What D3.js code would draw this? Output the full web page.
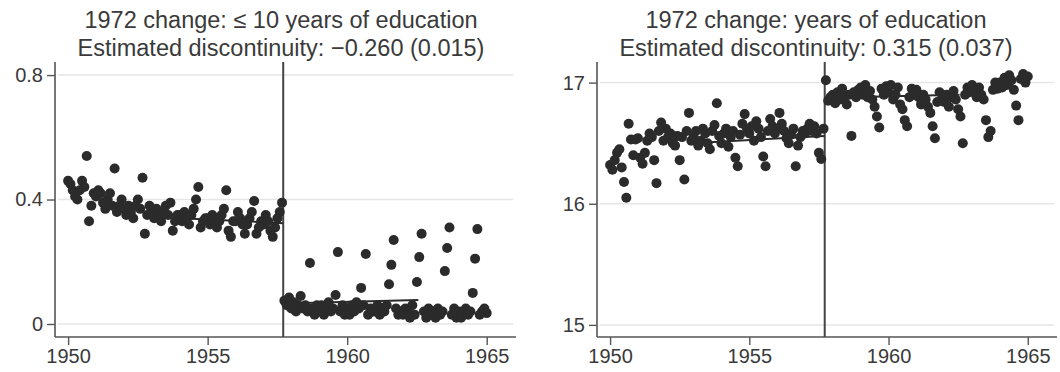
<!DOCTYPE html>
<html>
<head>
<meta charset="utf-8">
<script src="https://cdn.jsdelivr.net/npm/d3@7"></script>
<style>
  body { margin: 0; background: #fff; }
  svg { display: block; font-family: "Liberation Sans", Arial, sans-serif; }
</style>
</head>
<body>
<svg id="chart" width="1060" height="372"></svg>
<script>
// monthly birth cohorts, first pre-reform cohort is Jan 1950, first post-reform is Oct 1957
const preStart = 1950.0;
const postStart = 1957.75;
const cutoff = 1957.708;
const xTicks = [1950, 1955, 1960, 1965];

// share with <= 10 years of education
const leftPre = [
  0.46, 0.45, 0.43, 0.41, 0.40, 0.43, 0.46, 0.44, 0.54, 0.33, 0.38, 0.42,
  0.41, 0.43, 0.42, 0.39, 0.37, 0.40, 0.42, 0.38, 0.50, 0.36, 0.38, 0.40,
  0.37, 0.35, 0.38, 0.36, 0.34, 0.38, 0.40, 0.37, 0.47, 0.29, 0.35, 0.38,
  0.36, 0.34, 0.37, 0.35, 0.33, 0.36, 0.38, 0.35, 0.39, 0.30, 0.33, 0.35,
  0.35, 0.33, 0.36, 0.34, 0.32, 0.35, 0.37, 0.40, 0.44, 0.31, 0.33, 0.34,
  0.34, 0.32, 0.35, 0.33, 0.31, 0.33, 0.35, 0.37, 0.43, 0.30, 0.28, 0.33,
  0.33, 0.36, 0.34, 0.32, 0.29, 0.32, 0.34, 0.36, 0.395, 0.29, 0.31, 0.33,
  0.32, 0.35, 0.33, 0.30, 0.28, 0.31, 0.34, 0.36, 0.39
];
const leftPost = [
  0.075, 0.06, 0.085,
  0.05, 0.07, 0.04, 0.06, 0.09, 0.05, 0.06, 0.04, 0.196, 0.05, 0.03, 0.06,
  0.04, 0.06, 0.03, 0.05, 0.07, 0.04, 0.05, 0.093, 0.231, 0.04, 0.06, 0.03,
  0.05, 0.03, 0.06, 0.04, 0.07, 0.05, 0.116, 0.06, 0.225, 0.03, 0.05, 0.04,
  0.04, 0.06, 0.03, 0.05, 0.04, 0.06, 0.128, 0.19, 0.27, 0.05, 0.03, 0.04,
  0.03, 0.05, 0.04, 0.02, 0.06, 0.03, 0.135, 0.215, 0.29, 0.04, 0.02, 0.05,
  0.03, 0.04, 0.02, 0.05, 0.03, 0.04, 0.17, 0.244, 0.31, 0.03, 0.05, 0.02,
  0.04, 0.02, 0.03, 0.05, 0.03, 0.04, 0.10, 0.21, 0.305, 0.03, 0.04, 0.05,
  0.035
];
const leftFit = [
  [[1952.9, 0.345], [cutoff, 0.324]],
  [[cutoff, 0.066], [1962.55, 0.077]]
];
const leftTicks = [0, 0.4, 0.8];

// years of education
const rightPre = [
  16.32, 16.28, 16.36, 16.42, 16.45, 16.30, 16.18, 16.05, 16.66, 16.53, 16.40, 16.53,
  16.54, 16.38, 16.33, 16.42, 16.52, 16.58, 16.55, 16.36, 16.17, 16.60, 16.67, 16.52,
  16.62, 16.55, 16.58, 16.50, 16.48, 16.56, 16.36, 16.55, 16.20, 16.60, 16.75, 16.52,
  16.55, 16.60, 16.48, 16.52, 16.62, 16.58, 16.50, 16.45, 16.60, 16.65, 16.83, 16.56,
  16.50, 16.58, 16.62, 16.47, 16.55, 16.60, 16.38, 16.31, 16.57, 16.66, 16.74, 16.62,
  16.58, 16.64, 16.52, 16.68, 16.62, 16.55, 16.39, 16.31, 16.60, 16.70, 16.64, 16.58,
  16.62, 16.75, 16.66, 16.60, 16.54, 16.50, 16.57, 16.62, 16.31, 16.48, 16.55, 16.60,
  16.58, 16.62, 16.66, 16.60, 16.64, 16.58, 16.42, 16.37, 16.62
];
const rightPost = [
  17.02, 16.85, 16.88,
  16.90, 16.83, 16.92, 16.86, 16.95, 16.88, 16.82, 16.90, 16.56, 16.92, 16.88, 16.94,
  16.96, 16.90, 16.98, 16.88, 16.93, 16.86, 16.80, 16.72, 16.63, 16.95, 16.90, 16.97,
  16.92, 16.98, 16.86, 16.90, 16.96, 16.82, 16.78, 16.69, 16.64, 16.88, 16.95, 16.90,
  16.94, 16.88, 16.82, 16.90, 16.86, 16.80, 16.75, 16.64, 16.54, 16.84, 16.92, 16.86,
  16.84, 16.90, 16.80, 16.88, 16.93, 16.86, 16.78, 16.72, 16.50, 16.90, 16.96, 16.92,
  16.98, 16.92, 16.88, 16.96, 16.90, 16.86, 16.69, 16.55, 16.60, 16.94, 17.00, 16.95,
  17.00, 16.96, 17.04, 16.98, 17.06, 17.02, 16.94, 16.81, 16.69, 17.03, 17.07, 17.00,
  17.05
];
const rightFit = [
  [[1952.9, 16.50], [cutoff, 16.56]],
  [[cutoff, 16.875], [1962.55, 16.90]]
];
const rightTicks = [15, 16, 17];

const ink = "#2b2b2b";
const textCol = "#3a3a3a";

const svg = d3.select("#chart");

function monthly(start, vals) {
  return vals.map((v, i) => ({ x: start + i / 12, y: v }));
}

function drawPanel(opts) {
  const x = d3.scaleLinear().domain([1949.53, 1966.05]).range([opts.left, opts.right]);
  const y = d3.scaleLinear().domain(opts.yDomain).range([337, 62]);
  const g = svg.append("g");

  // title
  const title = g.append("text")
    .attr("x", opts.titleX)
    .attr("text-anchor", "middle")
    .attr("fill", textCol)
    .style("font-size", "23.5px");
  title.append("tspan").attr("x", opts.titleX).attr("y", 28).text(opts.title1);
  title.append("tspan").attr("x", opts.titleX).attr("y", 56).text(opts.title2);

  // gridlines
  g.selectAll(".grid")
    .data(opts.yTicks)
    .enter()
    .append("line")
    .attr("x1", opts.left + 3)
    .attr("x2", opts.right - 3)
    .attr("y1", d => y(d))
    .attr("y2", d => y(d))
    .attr("stroke", "#e6e6e6")
    .attr("stroke-width", 1.5);

  // axes
  const yAxis = g.append("g")
    .attr("transform", `translate(${opts.left},0)`)
    .call(d3.axisLeft(y).tickValues(opts.yTicks).tickFormat(opts.yFormat).tickSize(8).tickPadding(4));
  const xAxis = g.append("g")
    .attr("transform", `translate(0,337)`)
    .call(d3.axisBottom(x).tickValues(xTicks).tickFormat(d3.format("d")).tickSize(8).tickPadding(4));

  [xAxis, yAxis].forEach(a => {
    a.select(".domain").attr("stroke", "#555").attr("stroke-width", 1.6);
    a.selectAll(".tick line").attr("stroke", "#555").attr("stroke-width", 1.4);
    a.selectAll(".tick text")
      .attr("fill", textCol)
      .style("font-size", "20px")
      .style("font-family", "'Liberation Sans', Arial, sans-serif");
  });
  yAxis.select(".domain").attr("d", `M0,${y.range()[0]}V${y.range()[1]}`);
  xAxis.select(".domain").attr("d", `M${opts.left},0H${opts.right}`);

  // cutoff line
  g.append("line")
    .attr("x1", x(cutoff)).attr("x2", x(cutoff))
    .attr("y1", 62).attr("y2", 337)
    .attr("stroke", "#444")
    .attr("stroke-width", 2);

  // fitted lines
  const line = d3.line().x(d => x(d[0])).y(d => y(d[1]));
  g.selectAll(".fit")
    .data(opts.fit)
    .enter()
    .append("path")
    .attr("d", d => line(d))
    .attr("fill", "none")
    .attr("stroke", ink)
    .attr("stroke-width", 2);

  // dots
  const pts = monthly(preStart, opts.pre).concat(monthly(postStart, opts.post));
  g.selectAll(".dot")
    .data(pts)
    .enter()
    .append("circle")
    .attr("cx", d => x(d.x))
    .attr("cy", d => y(d.y))
    .attr("r", 5)
    .attr("fill", ink);
}

drawPanel({
  left: 55, right: 516, titleX: 281,
  title1: "1972 change: \u2264 10 years of education",
  title2: "Estimated discontinuity: \u22120.260 (0.015)",
  yDomain: [-0.0418, 0.842], yTicks: leftTicks, yFormat: d => d === 0 ? "0" : d3.format(".1f")(d),
  pre: leftPre, post: leftPost, fit: leftFit
});

drawPanel({
  left: 597, right: 1057, titleX: 816,
  title1: "1972 change: years of education",
  title2: "Estimated discontinuity: 0.315 (0.037)",
  yDomain: [14.9, 17.17], yTicks: rightTicks, yFormat: d3.format("d"),
  pre: rightPre, post: rightPost, fit: rightFit
});
</script>
</body>
</html>
